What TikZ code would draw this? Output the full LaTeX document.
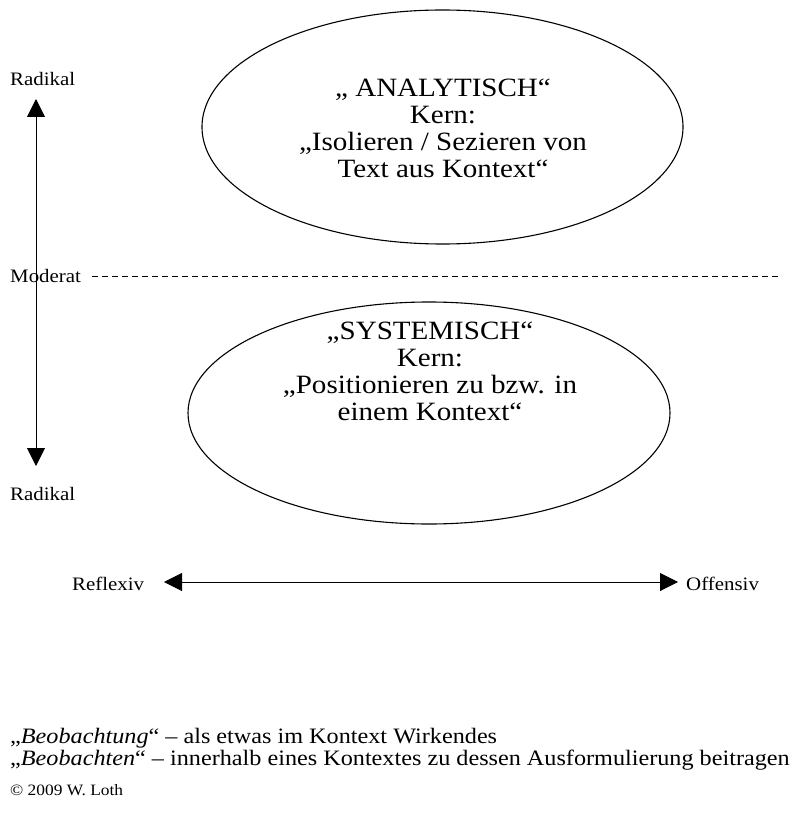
\documentclass[tikz,border=0pt]{standalone}
\usepackage{fontspec}
\setmainfont[FakeStretch=1.1]{Liberation Serif}
\usetikzlibrary{shapes.geometric,arrows.meta}
\begin{document}
\begin{tikzpicture}[x=1pt,y=-1pt,
  lbl/.style={anchor=base west,inner sep=0pt,font=\fontsize{19}{22}\selectfont},
  etext/.style={align=center,inner sep=0pt,font=\fontsize{26.4}{27}\selectfont},
  oval/.style={draw,line width=1.1pt,ellipse,inner sep=0pt},
  axis/.style={line width=1pt,{Triangle[length=18pt,width=18pt]}-{Triangle[length=18pt,width=18pt]}},
  foot/.style={anchor=base west,inner sep=0pt,font=\fontsize{22}{22}\selectfont}]
\useasboundingbox (0,0) rectangle (803,818);
% ellipses
\node[oval,minimum width=481pt,minimum height=234pt] (ana) at (442.5,127) {};
\node[oval,minimum width=482pt,minimum height=222pt] (sys) at (429,413) {};
\node[etext] (anat) at (443,128) {„ ANALYTISCH“\\Kern:\\„Isolieren / Sezieren von\\Text aus Kontext“};
\node[etext] (syst) at (430,371) {„SYSTEMISCH“\\Kern:\\„Positionieren zu bzw. in\\einem Kontext“};
% vertical axis
\node[lbl] (radt) at (10,86) {Radikal};
\node[lbl] (mod) at (10,282) {Moderat};
\node[lbl] (radb) at (10,500) {Radikal};
\coordinate (vtop) at (36,99);
\coordinate (vbot) at (36,466);
\draw[axis] (vtop) -- (vbot);
\coordinate (dl) at (92,276);
\coordinate (dr) at (780,276);
\draw[line width=1pt,dash pattern=on 6pt off 4pt] (dl) -- (dr);
% horizontal axis
\node[lbl] (refl) at (72,590) {Reflexiv};
\node[lbl] (off) at (686,590) {Offensiv};
\coordinate (hl) at (164,582);
\coordinate (hr) at (678,582);
\draw[axis] (hl) -- (hr);
% footnotes
\node[foot] (f1) at (10,743) {„\textit{Beobachtung}“ – als etwas im Kontext Wirkendes};
\node[foot] (f2) at (10,765) {„\textit{Beobachten}“ – innerhalb eines Kontextes zu dessen Ausformulierung beitragen};
\node[anchor=base west,inner sep=0pt,font=\fontsize{15.8}{18}\selectfont] (copy) at (10,795) {© 2009 W. Loth};
\end{tikzpicture}
\end{document}
